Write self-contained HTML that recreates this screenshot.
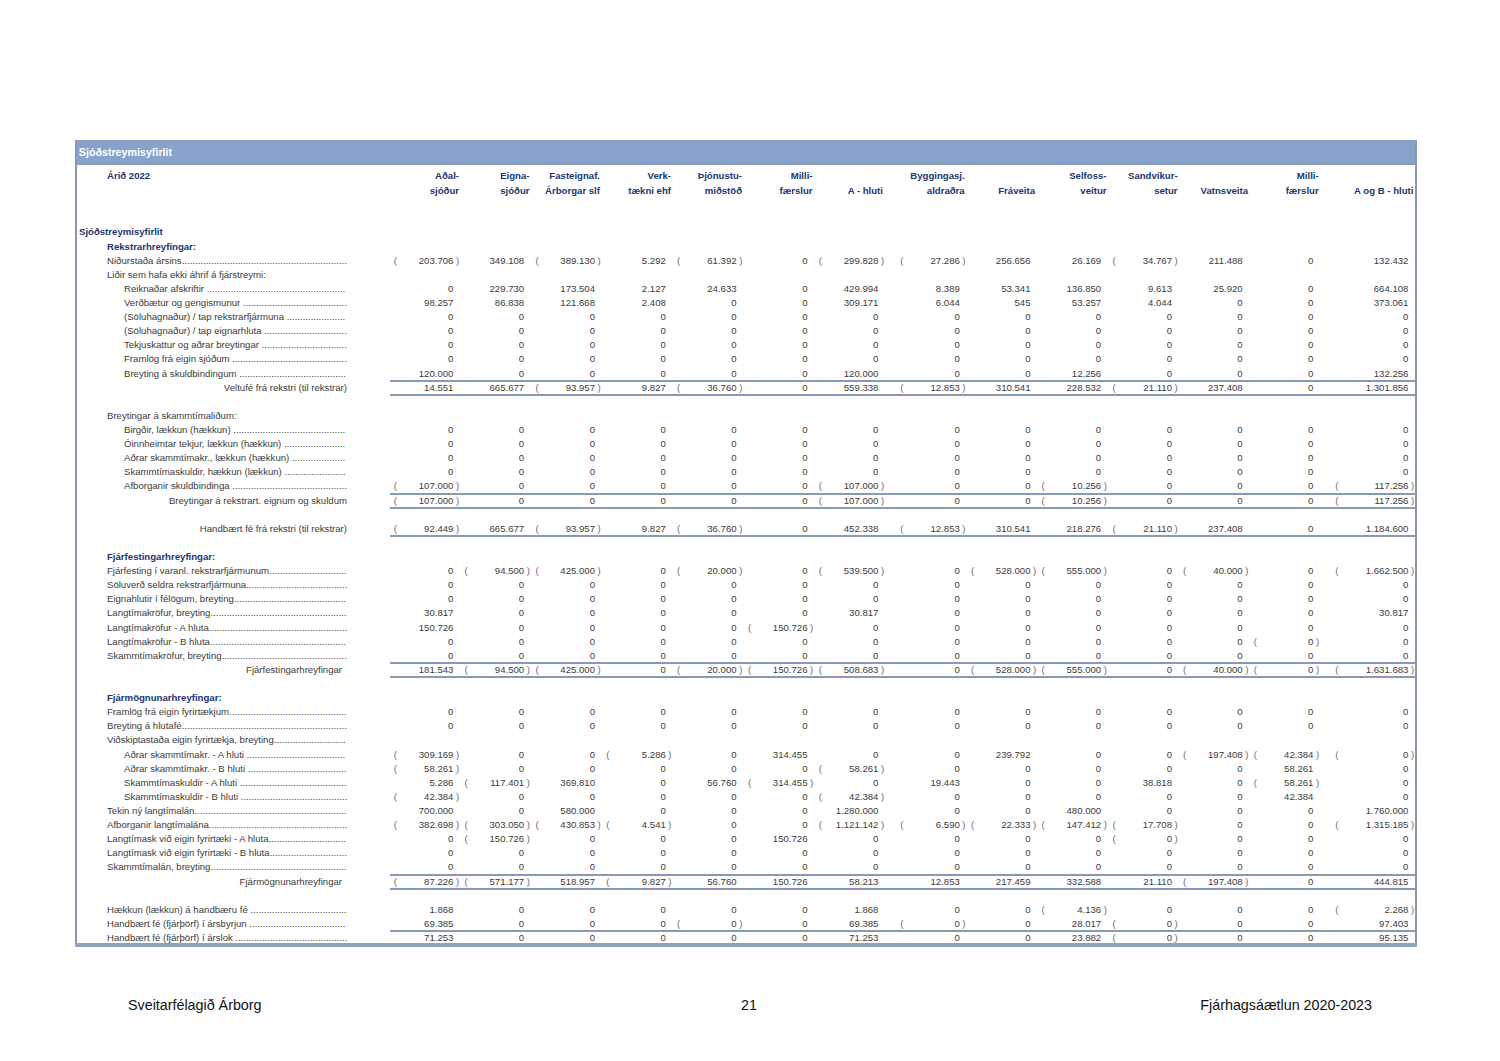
<!DOCTYPE html>
<html><head><meta charset="utf-8"><title>Sjóðstreymisyfirlit</title><style>
html,body{margin:0;padding:0;background:#fff;}
body{width:1500px;height:1061px;position:relative;overflow:hidden;font-family:"Liberation Sans",sans-serif;}
.t{position:absolute;white-space:pre;font-size:9.6px;line-height:14px;color:#3b3b3b;}
.b{font-weight:bold;color:#1e3370;}
.h{font-weight:bold;color:#22356f;}
.d{overflow:hidden;}
.ln{position:absolute;left:390px;width:1025px;height:2px;background:#8797bd;}
.ln.g{background:#8899b2;}
.p{color:#6a6a6a;}
#bar{position:absolute;left:75px;top:140px;width:1342px;height:22px;background:#87a3cb;border-top:1px solid #8e9db6;border-bottom:2px solid #8b9bb3;}
#bar span{position:absolute;left:3.8px;top:-1.5px;line-height:25px;font-size:10.7px;font-weight:bold;color:#fff;}
#lb{position:absolute;left:75px;top:165px;width:2px;height:781px;background:#8a95a8;}
#rb{position:absolute;left:1415px;top:165px;width:2px;height:781px;background:#8a95a8;}
.be{position:absolute;top:141px;width:2px;height:22px;background:#8299bf;}
#bb{position:absolute;left:75px;top:943px;width:1342px;height:4px;background:#8ea2be;}
.ft{position:absolute;font-size:14.3px;color:#111;white-space:pre;line-height:20px;}
</style></head><body>
<div id="bar"><span>Sjóðstreymisyfirlit</span></div>
<div id="lb"></div><div id="rb"></div><div id="bb"></div><div class="be" style="left:75px"></div><div class="be" style="left:1415px"></div>
<div class="t b" style="left:79px;top:225.45px">Sjóðstreymisyfirlit</div>
<div class="t b" style="left:107px;top:239.56px">Rekstrarhreyfingar:</div>
<div class="t" style="left:107px;top:253.67px">Niðurstaða ársins..............................................................</div>
<div class="t" style="left:107px;top:267.78px">Liðir sem hafa ekki áhrif á fjárstreymi:</div>
<div class="t" style="left:124px;top:281.89px">Reiknaðar afskriftir ....................................................</div>
<div class="t" style="left:124px;top:296px">Verðbætur og gengismunur .......................................</div>
<div class="t" style="left:124px;top:310.11px">(Söluhagnaður) / tap rekstrarfjármuna ......................</div>
<div class="t" style="left:124px;top:324.22px">(Söluhagnaður) / tap eignarhluta ...............................</div>
<div class="t" style="left:124px;top:338.33px">Tekjuskattur og aðrar breytingar ................................</div>
<div class="t" style="left:124px;top:352.44px">Framlög frá eigin sjóðum ...........................................</div>
<div class="t" style="left:124px;top:366.55px">Breyting á skuldbindingum ........................................</div>
<div class="t" style="right:1153px;top:380.66px">Veltufé frá rekstri (til rekstrar)</div>
<div class="t" style="left:107px;top:408.88px">Breytingar á skammtímaliðum:</div>
<div class="t" style="left:124px;top:422.99px">Birgðir, lækkun (hækkun) ..........................................</div>
<div class="t" style="left:124px;top:437.1px">Óinnheimtar tekjur, lækkun (hækkun) .......................</div>
<div class="t" style="left:124px;top:451.21px">Aðrar skammtímakr., lækkun (hækkun) ....................</div>
<div class="t" style="left:124px;top:465.32px">Skammtímaskuldir, hækkun (lækkun) .......................</div>
<div class="t" style="left:124px;top:479.43px">Afborganir skuldbindinga ...........................................</div>
<div class="t" style="right:1153px;top:493.54px">Breytingar á rekstrart. eignum og skuldum</div>
<div class="t" style="right:1153px;top:521.76px">Handbært fé frá rekstri (til rekstrar)</div>
<div class="t b" style="left:107px;top:549.98px">Fjárfestingarhreyfingar:</div>
<div class="t" style="left:107px;top:564.09px">Fjárfesting í varanl. rekstrarfjármunum.............................</div>
<div class="t" style="left:107px;top:578.2px">Söluverð seldra rekstrarfjármuna......................................</div>
<div class="t" style="left:107px;top:592.31px">Eignahlutir í félögum, breyting..........................................</div>
<div class="t" style="left:107px;top:606.42px">Langtímakröfur, breyting...................................................</div>
<div class="t" style="left:107px;top:620.53px">Langtímakröfur - A hluta....................................................</div>
<div class="t" style="left:107px;top:634.64px">Langtímakröfur - B hluta...................................................</div>
<div class="t" style="left:107px;top:648.75px">Skammtímakröfur, breyting...............................................</div>
<div class="t" style="right:1158px;top:662.86px">Fjárfestingarhreyfingar</div>
<div class="t b" style="left:107px;top:691.08px">Fjármögnunarhreyfingar:</div>
<div class="t" style="left:107px;top:705.19px">Framlög frá eigin fyrirtækjum............................................</div>
<div class="t" style="left:107px;top:719.3px">Breyting á hlutafé..............................................................</div>
<div class="t" style="left:107px;top:733.41px">Viðskiptastaða eigin fyrirtækja, breyting...........................</div>
<div class="t" style="left:124px;top:747.52px">Aðrar skammtímakr. - A hluti .....................................</div>
<div class="t" style="left:124px;top:761.63px">Aðrar skammtímakr. - B hluti .....................................</div>
<div class="t" style="left:124px;top:775.74px">Skammtímaskuldir - A hluti ........................................</div>
<div class="t" style="left:124px;top:789.85px">Skammtímaskuldir - B hluti ........................................</div>
<div class="t" style="left:107px;top:803.96px">Tekin ný langtímalán.........................................................</div>
<div class="t" style="left:107px;top:818.07px">Afborganir langtímalána....................................................</div>
<div class="t" style="left:107px;top:832.18px">Langtímask við eigin fyrirtæki - A hluta.............................</div>
<div class="t" style="left:107px;top:846.29px">Langtímask við eigin fyrirtæki - B hluta.............................</div>
<div class="t" style="left:107px;top:860.4px">Skammtímalán, breyting...................................................</div>
<div class="t" style="right:1158px;top:874.51px">Fjármögnunarhreyfingar</div>
<div class="t" style="left:107px;top:902.73px">Hækkun (lækkun) á handbæru fé ....................................</div>
<div class="t" style="left:107px;top:916.84px">Handbært fé (fjárþörf) í ársbyrjun ....................................</div>
<div class="t" style="left:107px;top:930.95px">Handbært fé (fjárþörf) í árslok ..........................................</div>
<div class="t n" style="right:1046.6px;top:253.67px">203.706</div>
<div class="t n p" style="left:393.8px;top:253.67px">(</div>
<div class="t n p" style="left:455.94px;top:253.67px">)</div>
<div class="t n" style="right:975.8px;top:253.67px">349.108</div>
<div class="t n" style="right:905px;top:253.67px">389.130</div>
<div class="t n p" style="left:535.4px;top:253.67px">(</div>
<div class="t n p" style="left:597.54px;top:253.67px">)</div>
<div class="t n" style="right:834.2px;top:253.67px">5.292</div>
<div class="t n" style="right:763.4px;top:253.67px">61.392</div>
<div class="t n p" style="left:677px;top:253.67px">(</div>
<div class="t n p" style="left:739.14px;top:253.67px">)</div>
<div class="t n" style="right:692.5px;top:253.67px">0</div>
<div class="t n" style="right:621.6px;top:253.67px">299.828</div>
<div class="t n p" style="left:818.8px;top:253.67px">(</div>
<div class="t n p" style="left:880.94px;top:253.67px">)</div>
<div class="t n" style="right:540.2px;top:253.67px">27.286</div>
<div class="t n p" style="left:900.2px;top:253.67px">(</div>
<div class="t n p" style="left:962.34px;top:253.67px">)</div>
<div class="t n" style="right:469.5px;top:253.67px">256.656</div>
<div class="t n" style="right:398.8px;top:253.67px">26.169</div>
<div class="t n" style="right:328px;top:253.67px">34.767</div>
<div class="t n p" style="left:1112.4px;top:253.67px">(</div>
<div class="t n p" style="left:1174.54px;top:253.67px">)</div>
<div class="t n" style="right:257.3px;top:253.67px">211.488</div>
<div class="t n" style="right:186.6px;top:253.67px">0</div>
<div class="t n" style="right:91.6px;top:253.67px">132.432</div>
<div class="t n" style="right:1046.6px;top:281.89px">0</div>
<div class="t n" style="right:975.8px;top:281.89px">229.730</div>
<div class="t n" style="right:905px;top:281.89px">173.504</div>
<div class="t n" style="right:834.2px;top:281.89px">2.127</div>
<div class="t n" style="right:763.4px;top:281.89px">24.633</div>
<div class="t n" style="right:692.5px;top:281.89px">0</div>
<div class="t n" style="right:621.6px;top:281.89px">429.994</div>
<div class="t n" style="right:540.2px;top:281.89px">8.389</div>
<div class="t n" style="right:469.5px;top:281.89px">53.341</div>
<div class="t n" style="right:398.8px;top:281.89px">136.850</div>
<div class="t n" style="right:328px;top:281.89px">9.613</div>
<div class="t n" style="right:257.3px;top:281.89px">25.920</div>
<div class="t n" style="right:186.6px;top:281.89px">0</div>
<div class="t n" style="right:91.6px;top:281.89px">664.108</div>
<div class="t n" style="right:1046.6px;top:296px">98.257</div>
<div class="t n" style="right:975.8px;top:296px">86.838</div>
<div class="t n" style="right:905px;top:296px">121.668</div>
<div class="t n" style="right:834.2px;top:296px">2.408</div>
<div class="t n" style="right:763.4px;top:296px">0</div>
<div class="t n" style="right:692.5px;top:296px">0</div>
<div class="t n" style="right:621.6px;top:296px">309.171</div>
<div class="t n" style="right:540.2px;top:296px">6.044</div>
<div class="t n" style="right:469.5px;top:296px">545</div>
<div class="t n" style="right:398.8px;top:296px">53.257</div>
<div class="t n" style="right:328px;top:296px">4.044</div>
<div class="t n" style="right:257.3px;top:296px">0</div>
<div class="t n" style="right:186.6px;top:296px">0</div>
<div class="t n" style="right:91.6px;top:296px">373.061</div>
<div class="t n" style="right:1046.6px;top:310.11px">0</div>
<div class="t n" style="right:975.8px;top:310.11px">0</div>
<div class="t n" style="right:905px;top:310.11px">0</div>
<div class="t n" style="right:834.2px;top:310.11px">0</div>
<div class="t n" style="right:763.4px;top:310.11px">0</div>
<div class="t n" style="right:692.5px;top:310.11px">0</div>
<div class="t n" style="right:621.6px;top:310.11px">0</div>
<div class="t n" style="right:540.2px;top:310.11px">0</div>
<div class="t n" style="right:469.5px;top:310.11px">0</div>
<div class="t n" style="right:398.8px;top:310.11px">0</div>
<div class="t n" style="right:328px;top:310.11px">0</div>
<div class="t n" style="right:257.3px;top:310.11px">0</div>
<div class="t n" style="right:186.6px;top:310.11px">0</div>
<div class="t n" style="right:91.6px;top:310.11px">0</div>
<div class="t n" style="right:1046.6px;top:324.22px">0</div>
<div class="t n" style="right:975.8px;top:324.22px">0</div>
<div class="t n" style="right:905px;top:324.22px">0</div>
<div class="t n" style="right:834.2px;top:324.22px">0</div>
<div class="t n" style="right:763.4px;top:324.22px">0</div>
<div class="t n" style="right:692.5px;top:324.22px">0</div>
<div class="t n" style="right:621.6px;top:324.22px">0</div>
<div class="t n" style="right:540.2px;top:324.22px">0</div>
<div class="t n" style="right:469.5px;top:324.22px">0</div>
<div class="t n" style="right:398.8px;top:324.22px">0</div>
<div class="t n" style="right:328px;top:324.22px">0</div>
<div class="t n" style="right:257.3px;top:324.22px">0</div>
<div class="t n" style="right:186.6px;top:324.22px">0</div>
<div class="t n" style="right:91.6px;top:324.22px">0</div>
<div class="t n" style="right:1046.6px;top:338.33px">0</div>
<div class="t n" style="right:975.8px;top:338.33px">0</div>
<div class="t n" style="right:905px;top:338.33px">0</div>
<div class="t n" style="right:834.2px;top:338.33px">0</div>
<div class="t n" style="right:763.4px;top:338.33px">0</div>
<div class="t n" style="right:692.5px;top:338.33px">0</div>
<div class="t n" style="right:621.6px;top:338.33px">0</div>
<div class="t n" style="right:540.2px;top:338.33px">0</div>
<div class="t n" style="right:469.5px;top:338.33px">0</div>
<div class="t n" style="right:398.8px;top:338.33px">0</div>
<div class="t n" style="right:328px;top:338.33px">0</div>
<div class="t n" style="right:257.3px;top:338.33px">0</div>
<div class="t n" style="right:186.6px;top:338.33px">0</div>
<div class="t n" style="right:91.6px;top:338.33px">0</div>
<div class="t n" style="right:1046.6px;top:352.44px">0</div>
<div class="t n" style="right:975.8px;top:352.44px">0</div>
<div class="t n" style="right:905px;top:352.44px">0</div>
<div class="t n" style="right:834.2px;top:352.44px">0</div>
<div class="t n" style="right:763.4px;top:352.44px">0</div>
<div class="t n" style="right:692.5px;top:352.44px">0</div>
<div class="t n" style="right:621.6px;top:352.44px">0</div>
<div class="t n" style="right:540.2px;top:352.44px">0</div>
<div class="t n" style="right:469.5px;top:352.44px">0</div>
<div class="t n" style="right:398.8px;top:352.44px">0</div>
<div class="t n" style="right:328px;top:352.44px">0</div>
<div class="t n" style="right:257.3px;top:352.44px">0</div>
<div class="t n" style="right:186.6px;top:352.44px">0</div>
<div class="t n" style="right:91.6px;top:352.44px">0</div>
<div class="t n" style="right:1046.6px;top:366.55px">120.000</div>
<div class="t n" style="right:975.8px;top:366.55px">0</div>
<div class="t n" style="right:905px;top:366.55px">0</div>
<div class="t n" style="right:834.2px;top:366.55px">0</div>
<div class="t n" style="right:763.4px;top:366.55px">0</div>
<div class="t n" style="right:692.5px;top:366.55px">0</div>
<div class="t n" style="right:621.6px;top:366.55px">120.000</div>
<div class="t n" style="right:540.2px;top:366.55px">0</div>
<div class="t n" style="right:469.5px;top:366.55px">0</div>
<div class="t n" style="right:398.8px;top:366.55px">12.256</div>
<div class="t n" style="right:328px;top:366.55px">0</div>
<div class="t n" style="right:257.3px;top:366.55px">0</div>
<div class="t n" style="right:186.6px;top:366.55px">0</div>
<div class="t n" style="right:91.6px;top:366.55px">132.256</div>
<div class="t n" style="right:1046.6px;top:380.66px">14.551</div>
<div class="t n" style="right:975.8px;top:380.66px">665.677</div>
<div class="t n" style="right:905px;top:380.66px">93.957</div>
<div class="t n p" style="left:535.4px;top:380.66px">(</div>
<div class="t n p" style="left:597.54px;top:380.66px">)</div>
<div class="t n" style="right:834.2px;top:380.66px">9.827</div>
<div class="t n" style="right:763.4px;top:380.66px">36.760</div>
<div class="t n p" style="left:677px;top:380.66px">(</div>
<div class="t n p" style="left:739.14px;top:380.66px">)</div>
<div class="t n" style="right:692.5px;top:380.66px">0</div>
<div class="t n" style="right:621.6px;top:380.66px">559.338</div>
<div class="t n" style="right:540.2px;top:380.66px">12.853</div>
<div class="t n p" style="left:900.2px;top:380.66px">(</div>
<div class="t n p" style="left:962.34px;top:380.66px">)</div>
<div class="t n" style="right:469.5px;top:380.66px">310.541</div>
<div class="t n" style="right:398.8px;top:380.66px">228.532</div>
<div class="t n" style="right:328px;top:380.66px">21.110</div>
<div class="t n p" style="left:1112.4px;top:380.66px">(</div>
<div class="t n p" style="left:1174.54px;top:380.66px">)</div>
<div class="t n" style="right:257.3px;top:380.66px">237.408</div>
<div class="t n" style="right:186.6px;top:380.66px">0</div>
<div class="t n" style="right:91.6px;top:380.66px">1.301.856</div>
<div class="t n" style="right:1046.6px;top:422.99px">0</div>
<div class="t n" style="right:975.8px;top:422.99px">0</div>
<div class="t n" style="right:905px;top:422.99px">0</div>
<div class="t n" style="right:834.2px;top:422.99px">0</div>
<div class="t n" style="right:763.4px;top:422.99px">0</div>
<div class="t n" style="right:692.5px;top:422.99px">0</div>
<div class="t n" style="right:621.6px;top:422.99px">0</div>
<div class="t n" style="right:540.2px;top:422.99px">0</div>
<div class="t n" style="right:469.5px;top:422.99px">0</div>
<div class="t n" style="right:398.8px;top:422.99px">0</div>
<div class="t n" style="right:328px;top:422.99px">0</div>
<div class="t n" style="right:257.3px;top:422.99px">0</div>
<div class="t n" style="right:186.6px;top:422.99px">0</div>
<div class="t n" style="right:91.6px;top:422.99px">0</div>
<div class="t n" style="right:1046.6px;top:437.1px">0</div>
<div class="t n" style="right:975.8px;top:437.1px">0</div>
<div class="t n" style="right:905px;top:437.1px">0</div>
<div class="t n" style="right:834.2px;top:437.1px">0</div>
<div class="t n" style="right:763.4px;top:437.1px">0</div>
<div class="t n" style="right:692.5px;top:437.1px">0</div>
<div class="t n" style="right:621.6px;top:437.1px">0</div>
<div class="t n" style="right:540.2px;top:437.1px">0</div>
<div class="t n" style="right:469.5px;top:437.1px">0</div>
<div class="t n" style="right:398.8px;top:437.1px">0</div>
<div class="t n" style="right:328px;top:437.1px">0</div>
<div class="t n" style="right:257.3px;top:437.1px">0</div>
<div class="t n" style="right:186.6px;top:437.1px">0</div>
<div class="t n" style="right:91.6px;top:437.1px">0</div>
<div class="t n" style="right:1046.6px;top:451.21px">0</div>
<div class="t n" style="right:975.8px;top:451.21px">0</div>
<div class="t n" style="right:905px;top:451.21px">0</div>
<div class="t n" style="right:834.2px;top:451.21px">0</div>
<div class="t n" style="right:763.4px;top:451.21px">0</div>
<div class="t n" style="right:692.5px;top:451.21px">0</div>
<div class="t n" style="right:621.6px;top:451.21px">0</div>
<div class="t n" style="right:540.2px;top:451.21px">0</div>
<div class="t n" style="right:469.5px;top:451.21px">0</div>
<div class="t n" style="right:398.8px;top:451.21px">0</div>
<div class="t n" style="right:328px;top:451.21px">0</div>
<div class="t n" style="right:257.3px;top:451.21px">0</div>
<div class="t n" style="right:186.6px;top:451.21px">0</div>
<div class="t n" style="right:91.6px;top:451.21px">0</div>
<div class="t n" style="right:1046.6px;top:465.32px">0</div>
<div class="t n" style="right:975.8px;top:465.32px">0</div>
<div class="t n" style="right:905px;top:465.32px">0</div>
<div class="t n" style="right:834.2px;top:465.32px">0</div>
<div class="t n" style="right:763.4px;top:465.32px">0</div>
<div class="t n" style="right:692.5px;top:465.32px">0</div>
<div class="t n" style="right:621.6px;top:465.32px">0</div>
<div class="t n" style="right:540.2px;top:465.32px">0</div>
<div class="t n" style="right:469.5px;top:465.32px">0</div>
<div class="t n" style="right:398.8px;top:465.32px">0</div>
<div class="t n" style="right:328px;top:465.32px">0</div>
<div class="t n" style="right:257.3px;top:465.32px">0</div>
<div class="t n" style="right:186.6px;top:465.32px">0</div>
<div class="t n" style="right:91.6px;top:465.32px">0</div>
<div class="t n" style="right:1046.6px;top:479.43px">107.000</div>
<div class="t n p" style="left:393.8px;top:479.43px">(</div>
<div class="t n p" style="left:455.94px;top:479.43px">)</div>
<div class="t n" style="right:975.8px;top:479.43px">0</div>
<div class="t n" style="right:905px;top:479.43px">0</div>
<div class="t n" style="right:834.2px;top:479.43px">0</div>
<div class="t n" style="right:763.4px;top:479.43px">0</div>
<div class="t n" style="right:692.5px;top:479.43px">0</div>
<div class="t n" style="right:621.6px;top:479.43px">107.000</div>
<div class="t n p" style="left:818.8px;top:479.43px">(</div>
<div class="t n p" style="left:880.94px;top:479.43px">)</div>
<div class="t n" style="right:540.2px;top:479.43px">0</div>
<div class="t n" style="right:469.5px;top:479.43px">0</div>
<div class="t n" style="right:398.8px;top:479.43px">10.256</div>
<div class="t n p" style="left:1041.6px;top:479.43px">(</div>
<div class="t n p" style="left:1103.74px;top:479.43px">)</div>
<div class="t n" style="right:328px;top:479.43px">0</div>
<div class="t n" style="right:257.3px;top:479.43px">0</div>
<div class="t n" style="right:186.6px;top:479.43px">0</div>
<div class="t n" style="right:91.6px;top:479.43px">117.256</div>
<div class="t n p" style="left:1335.2px;top:479.43px">(</div>
<div class="t n p" style="left:1410.94px;top:479.43px">)</div>
<div class="t n" style="right:1046.6px;top:493.54px">107.000</div>
<div class="t n p" style="left:393.8px;top:493.54px">(</div>
<div class="t n p" style="left:455.94px;top:493.54px">)</div>
<div class="t n" style="right:975.8px;top:493.54px">0</div>
<div class="t n" style="right:905px;top:493.54px">0</div>
<div class="t n" style="right:834.2px;top:493.54px">0</div>
<div class="t n" style="right:763.4px;top:493.54px">0</div>
<div class="t n" style="right:692.5px;top:493.54px">0</div>
<div class="t n" style="right:621.6px;top:493.54px">107.000</div>
<div class="t n p" style="left:818.8px;top:493.54px">(</div>
<div class="t n p" style="left:880.94px;top:493.54px">)</div>
<div class="t n" style="right:540.2px;top:493.54px">0</div>
<div class="t n" style="right:469.5px;top:493.54px">0</div>
<div class="t n" style="right:398.8px;top:493.54px">10.256</div>
<div class="t n p" style="left:1041.6px;top:493.54px">(</div>
<div class="t n p" style="left:1103.74px;top:493.54px">)</div>
<div class="t n" style="right:328px;top:493.54px">0</div>
<div class="t n" style="right:257.3px;top:493.54px">0</div>
<div class="t n" style="right:186.6px;top:493.54px">0</div>
<div class="t n" style="right:91.6px;top:493.54px">117.256</div>
<div class="t n p" style="left:1335.2px;top:493.54px">(</div>
<div class="t n p" style="left:1410.94px;top:493.54px">)</div>
<div class="t n" style="right:1046.6px;top:521.76px">92.449</div>
<div class="t n p" style="left:393.8px;top:521.76px">(</div>
<div class="t n p" style="left:455.94px;top:521.76px">)</div>
<div class="t n" style="right:975.8px;top:521.76px">665.677</div>
<div class="t n" style="right:905px;top:521.76px">93.957</div>
<div class="t n p" style="left:535.4px;top:521.76px">(</div>
<div class="t n p" style="left:597.54px;top:521.76px">)</div>
<div class="t n" style="right:834.2px;top:521.76px">9.827</div>
<div class="t n" style="right:763.4px;top:521.76px">36.760</div>
<div class="t n p" style="left:677px;top:521.76px">(</div>
<div class="t n p" style="left:739.14px;top:521.76px">)</div>
<div class="t n" style="right:692.5px;top:521.76px">0</div>
<div class="t n" style="right:621.6px;top:521.76px">452.338</div>
<div class="t n" style="right:540.2px;top:521.76px">12.853</div>
<div class="t n p" style="left:900.2px;top:521.76px">(</div>
<div class="t n p" style="left:962.34px;top:521.76px">)</div>
<div class="t n" style="right:469.5px;top:521.76px">310.541</div>
<div class="t n" style="right:398.8px;top:521.76px">218.276</div>
<div class="t n" style="right:328px;top:521.76px">21.110</div>
<div class="t n p" style="left:1112.4px;top:521.76px">(</div>
<div class="t n p" style="left:1174.54px;top:521.76px">)</div>
<div class="t n" style="right:257.3px;top:521.76px">237.408</div>
<div class="t n" style="right:186.6px;top:521.76px">0</div>
<div class="t n" style="right:91.6px;top:521.76px">1.184.600</div>
<div class="t n" style="right:1046.6px;top:564.09px">0</div>
<div class="t n" style="right:975.8px;top:564.09px">94.500</div>
<div class="t n p" style="left:464.6px;top:564.09px">(</div>
<div class="t n p" style="left:526.74px;top:564.09px">)</div>
<div class="t n" style="right:905px;top:564.09px">425.000</div>
<div class="t n p" style="left:535.4px;top:564.09px">(</div>
<div class="t n p" style="left:597.54px;top:564.09px">)</div>
<div class="t n" style="right:834.2px;top:564.09px">0</div>
<div class="t n" style="right:763.4px;top:564.09px">20.000</div>
<div class="t n p" style="left:677px;top:564.09px">(</div>
<div class="t n p" style="left:739.14px;top:564.09px">)</div>
<div class="t n" style="right:692.5px;top:564.09px">0</div>
<div class="t n" style="right:621.6px;top:564.09px">539.500</div>
<div class="t n p" style="left:818.8px;top:564.09px">(</div>
<div class="t n p" style="left:880.94px;top:564.09px">)</div>
<div class="t n" style="right:540.2px;top:564.09px">0</div>
<div class="t n" style="right:469.5px;top:564.09px">528.000</div>
<div class="t n p" style="left:970.9px;top:564.09px">(</div>
<div class="t n p" style="left:1033.04px;top:564.09px">)</div>
<div class="t n" style="right:398.8px;top:564.09px">555.000</div>
<div class="t n p" style="left:1041.6px;top:564.09px">(</div>
<div class="t n p" style="left:1103.74px;top:564.09px">)</div>
<div class="t n" style="right:328px;top:564.09px">0</div>
<div class="t n" style="right:257.3px;top:564.09px">40.000</div>
<div class="t n p" style="left:1183.1px;top:564.09px">(</div>
<div class="t n p" style="left:1245.24px;top:564.09px">)</div>
<div class="t n" style="right:186.6px;top:564.09px">0</div>
<div class="t n" style="right:91.6px;top:564.09px">1.662.500</div>
<div class="t n p" style="left:1335.2px;top:564.09px">(</div>
<div class="t n p" style="left:1410.94px;top:564.09px">)</div>
<div class="t n" style="right:1046.6px;top:578.2px">0</div>
<div class="t n" style="right:975.8px;top:578.2px">0</div>
<div class="t n" style="right:905px;top:578.2px">0</div>
<div class="t n" style="right:834.2px;top:578.2px">0</div>
<div class="t n" style="right:763.4px;top:578.2px">0</div>
<div class="t n" style="right:692.5px;top:578.2px">0</div>
<div class="t n" style="right:621.6px;top:578.2px">0</div>
<div class="t n" style="right:540.2px;top:578.2px">0</div>
<div class="t n" style="right:469.5px;top:578.2px">0</div>
<div class="t n" style="right:398.8px;top:578.2px">0</div>
<div class="t n" style="right:328px;top:578.2px">0</div>
<div class="t n" style="right:257.3px;top:578.2px">0</div>
<div class="t n" style="right:186.6px;top:578.2px">0</div>
<div class="t n" style="right:91.6px;top:578.2px">0</div>
<div class="t n" style="right:1046.6px;top:592.31px">0</div>
<div class="t n" style="right:975.8px;top:592.31px">0</div>
<div class="t n" style="right:905px;top:592.31px">0</div>
<div class="t n" style="right:834.2px;top:592.31px">0</div>
<div class="t n" style="right:763.4px;top:592.31px">0</div>
<div class="t n" style="right:692.5px;top:592.31px">0</div>
<div class="t n" style="right:621.6px;top:592.31px">0</div>
<div class="t n" style="right:540.2px;top:592.31px">0</div>
<div class="t n" style="right:469.5px;top:592.31px">0</div>
<div class="t n" style="right:398.8px;top:592.31px">0</div>
<div class="t n" style="right:328px;top:592.31px">0</div>
<div class="t n" style="right:257.3px;top:592.31px">0</div>
<div class="t n" style="right:186.6px;top:592.31px">0</div>
<div class="t n" style="right:91.6px;top:592.31px">0</div>
<div class="t n" style="right:1046.6px;top:606.42px">30.817</div>
<div class="t n" style="right:975.8px;top:606.42px">0</div>
<div class="t n" style="right:905px;top:606.42px">0</div>
<div class="t n" style="right:834.2px;top:606.42px">0</div>
<div class="t n" style="right:763.4px;top:606.42px">0</div>
<div class="t n" style="right:692.5px;top:606.42px">0</div>
<div class="t n" style="right:621.6px;top:606.42px">30.817</div>
<div class="t n" style="right:540.2px;top:606.42px">0</div>
<div class="t n" style="right:469.5px;top:606.42px">0</div>
<div class="t n" style="right:398.8px;top:606.42px">0</div>
<div class="t n" style="right:328px;top:606.42px">0</div>
<div class="t n" style="right:257.3px;top:606.42px">0</div>
<div class="t n" style="right:186.6px;top:606.42px">0</div>
<div class="t n" style="right:91.6px;top:606.42px">30.817</div>
<div class="t n" style="right:1046.6px;top:620.53px">150.726</div>
<div class="t n" style="right:975.8px;top:620.53px">0</div>
<div class="t n" style="right:905px;top:620.53px">0</div>
<div class="t n" style="right:834.2px;top:620.53px">0</div>
<div class="t n" style="right:763.4px;top:620.53px">0</div>
<div class="t n" style="right:692.5px;top:620.53px">150.726</div>
<div class="t n p" style="left:747.9px;top:620.53px">(</div>
<div class="t n p" style="left:810.04px;top:620.53px">)</div>
<div class="t n" style="right:621.6px;top:620.53px">0</div>
<div class="t n" style="right:540.2px;top:620.53px">0</div>
<div class="t n" style="right:469.5px;top:620.53px">0</div>
<div class="t n" style="right:398.8px;top:620.53px">0</div>
<div class="t n" style="right:328px;top:620.53px">0</div>
<div class="t n" style="right:257.3px;top:620.53px">0</div>
<div class="t n" style="right:186.6px;top:620.53px">0</div>
<div class="t n" style="right:91.6px;top:620.53px">0</div>
<div class="t n" style="right:1046.6px;top:634.64px">0</div>
<div class="t n" style="right:975.8px;top:634.64px">0</div>
<div class="t n" style="right:905px;top:634.64px">0</div>
<div class="t n" style="right:834.2px;top:634.64px">0</div>
<div class="t n" style="right:763.4px;top:634.64px">0</div>
<div class="t n" style="right:692.5px;top:634.64px">0</div>
<div class="t n" style="right:621.6px;top:634.64px">0</div>
<div class="t n" style="right:540.2px;top:634.64px">0</div>
<div class="t n" style="right:469.5px;top:634.64px">0</div>
<div class="t n" style="right:398.8px;top:634.64px">0</div>
<div class="t n" style="right:328px;top:634.64px">0</div>
<div class="t n" style="right:257.3px;top:634.64px">0</div>
<div class="t n" style="right:186.6px;top:634.64px">0</div>
<div class="t n p" style="left:1253.8px;top:634.64px">(</div>
<div class="t n p" style="left:1315.94px;top:634.64px">)</div>
<div class="t n" style="right:91.6px;top:634.64px">0</div>
<div class="t n" style="right:1046.6px;top:648.75px">0</div>
<div class="t n" style="right:975.8px;top:648.75px">0</div>
<div class="t n" style="right:905px;top:648.75px">0</div>
<div class="t n" style="right:834.2px;top:648.75px">0</div>
<div class="t n" style="right:763.4px;top:648.75px">0</div>
<div class="t n" style="right:692.5px;top:648.75px">0</div>
<div class="t n" style="right:621.6px;top:648.75px">0</div>
<div class="t n" style="right:540.2px;top:648.75px">0</div>
<div class="t n" style="right:469.5px;top:648.75px">0</div>
<div class="t n" style="right:398.8px;top:648.75px">0</div>
<div class="t n" style="right:328px;top:648.75px">0</div>
<div class="t n" style="right:257.3px;top:648.75px">0</div>
<div class="t n" style="right:186.6px;top:648.75px">0</div>
<div class="t n" style="right:91.6px;top:648.75px">0</div>
<div class="t n" style="right:1046.6px;top:662.86px">181.543</div>
<div class="t n" style="right:975.8px;top:662.86px">94.500</div>
<div class="t n p" style="left:464.6px;top:662.86px">(</div>
<div class="t n p" style="left:526.74px;top:662.86px">)</div>
<div class="t n" style="right:905px;top:662.86px">425.000</div>
<div class="t n p" style="left:535.4px;top:662.86px">(</div>
<div class="t n p" style="left:597.54px;top:662.86px">)</div>
<div class="t n" style="right:834.2px;top:662.86px">0</div>
<div class="t n" style="right:763.4px;top:662.86px">20.000</div>
<div class="t n p" style="left:677px;top:662.86px">(</div>
<div class="t n p" style="left:739.14px;top:662.86px">)</div>
<div class="t n" style="right:692.5px;top:662.86px">150.726</div>
<div class="t n p" style="left:747.9px;top:662.86px">(</div>
<div class="t n p" style="left:810.04px;top:662.86px">)</div>
<div class="t n" style="right:621.6px;top:662.86px">508.683</div>
<div class="t n p" style="left:818.8px;top:662.86px">(</div>
<div class="t n p" style="left:880.94px;top:662.86px">)</div>
<div class="t n" style="right:540.2px;top:662.86px">0</div>
<div class="t n" style="right:469.5px;top:662.86px">528.000</div>
<div class="t n p" style="left:970.9px;top:662.86px">(</div>
<div class="t n p" style="left:1033.04px;top:662.86px">)</div>
<div class="t n" style="right:398.8px;top:662.86px">555.000</div>
<div class="t n p" style="left:1041.6px;top:662.86px">(</div>
<div class="t n p" style="left:1103.74px;top:662.86px">)</div>
<div class="t n" style="right:328px;top:662.86px">0</div>
<div class="t n" style="right:257.3px;top:662.86px">40.000</div>
<div class="t n p" style="left:1183.1px;top:662.86px">(</div>
<div class="t n p" style="left:1245.24px;top:662.86px">)</div>
<div class="t n" style="right:186.6px;top:662.86px">0</div>
<div class="t n p" style="left:1253.8px;top:662.86px">(</div>
<div class="t n p" style="left:1315.94px;top:662.86px">)</div>
<div class="t n" style="right:91.6px;top:662.86px">1.631.683</div>
<div class="t n p" style="left:1335.2px;top:662.86px">(</div>
<div class="t n p" style="left:1410.94px;top:662.86px">)</div>
<div class="t n" style="right:1046.6px;top:705.19px">0</div>
<div class="t n" style="right:975.8px;top:705.19px">0</div>
<div class="t n" style="right:905px;top:705.19px">0</div>
<div class="t n" style="right:834.2px;top:705.19px">0</div>
<div class="t n" style="right:763.4px;top:705.19px">0</div>
<div class="t n" style="right:692.5px;top:705.19px">0</div>
<div class="t n" style="right:621.6px;top:705.19px">0</div>
<div class="t n" style="right:540.2px;top:705.19px">0</div>
<div class="t n" style="right:469.5px;top:705.19px">0</div>
<div class="t n" style="right:398.8px;top:705.19px">0</div>
<div class="t n" style="right:328px;top:705.19px">0</div>
<div class="t n" style="right:257.3px;top:705.19px">0</div>
<div class="t n" style="right:186.6px;top:705.19px">0</div>
<div class="t n" style="right:91.6px;top:705.19px">0</div>
<div class="t n" style="right:1046.6px;top:719.3px">0</div>
<div class="t n" style="right:975.8px;top:719.3px">0</div>
<div class="t n" style="right:905px;top:719.3px">0</div>
<div class="t n" style="right:834.2px;top:719.3px">0</div>
<div class="t n" style="right:763.4px;top:719.3px">0</div>
<div class="t n" style="right:692.5px;top:719.3px">0</div>
<div class="t n" style="right:621.6px;top:719.3px">0</div>
<div class="t n" style="right:540.2px;top:719.3px">0</div>
<div class="t n" style="right:469.5px;top:719.3px">0</div>
<div class="t n" style="right:398.8px;top:719.3px">0</div>
<div class="t n" style="right:328px;top:719.3px">0</div>
<div class="t n" style="right:257.3px;top:719.3px">0</div>
<div class="t n" style="right:186.6px;top:719.3px">0</div>
<div class="t n" style="right:91.6px;top:719.3px">0</div>
<div class="t n" style="right:1046.6px;top:747.52px">309.169</div>
<div class="t n p" style="left:393.8px;top:747.52px">(</div>
<div class="t n p" style="left:455.94px;top:747.52px">)</div>
<div class="t n" style="right:975.8px;top:747.52px">0</div>
<div class="t n" style="right:905px;top:747.52px">0</div>
<div class="t n" style="right:834.2px;top:747.52px">5.286</div>
<div class="t n p" style="left:606.2px;top:747.52px">(</div>
<div class="t n p" style="left:668.34px;top:747.52px">)</div>
<div class="t n" style="right:763.4px;top:747.52px">0</div>
<div class="t n" style="right:692.5px;top:747.52px">314.455</div>
<div class="t n" style="right:621.6px;top:747.52px">0</div>
<div class="t n" style="right:540.2px;top:747.52px">0</div>
<div class="t n" style="right:469.5px;top:747.52px">239.792</div>
<div class="t n" style="right:398.8px;top:747.52px">0</div>
<div class="t n" style="right:328px;top:747.52px">0</div>
<div class="t n" style="right:257.3px;top:747.52px">197.408</div>
<div class="t n p" style="left:1183.1px;top:747.52px">(</div>
<div class="t n p" style="left:1245.24px;top:747.52px">)</div>
<div class="t n" style="right:186.6px;top:747.52px">42.384</div>
<div class="t n p" style="left:1253.8px;top:747.52px">(</div>
<div class="t n p" style="left:1315.94px;top:747.52px">)</div>
<div class="t n" style="right:91.6px;top:747.52px">0</div>
<div class="t n p" style="left:1335.2px;top:747.52px">(</div>
<div class="t n p" style="left:1410.94px;top:747.52px">)</div>
<div class="t n" style="right:1046.6px;top:761.63px">58.261</div>
<div class="t n p" style="left:393.8px;top:761.63px">(</div>
<div class="t n p" style="left:455.94px;top:761.63px">)</div>
<div class="t n" style="right:975.8px;top:761.63px">0</div>
<div class="t n" style="right:905px;top:761.63px">0</div>
<div class="t n" style="right:834.2px;top:761.63px">0</div>
<div class="t n" style="right:763.4px;top:761.63px">0</div>
<div class="t n" style="right:692.5px;top:761.63px">0</div>
<div class="t n" style="right:621.6px;top:761.63px">58.261</div>
<div class="t n p" style="left:818.8px;top:761.63px">(</div>
<div class="t n p" style="left:880.94px;top:761.63px">)</div>
<div class="t n" style="right:540.2px;top:761.63px">0</div>
<div class="t n" style="right:469.5px;top:761.63px">0</div>
<div class="t n" style="right:398.8px;top:761.63px">0</div>
<div class="t n" style="right:328px;top:761.63px">0</div>
<div class="t n" style="right:257.3px;top:761.63px">0</div>
<div class="t n" style="right:186.6px;top:761.63px">58.261</div>
<div class="t n" style="right:91.6px;top:761.63px">0</div>
<div class="t n" style="right:1046.6px;top:775.74px">5.286</div>
<div class="t n" style="right:975.8px;top:775.74px">117.401</div>
<div class="t n p" style="left:464.6px;top:775.74px">(</div>
<div class="t n p" style="left:526.74px;top:775.74px">)</div>
<div class="t n" style="right:905px;top:775.74px">369.810</div>
<div class="t n" style="right:834.2px;top:775.74px">0</div>
<div class="t n" style="right:763.4px;top:775.74px">56.760</div>
<div class="t n" style="right:692.5px;top:775.74px">314.455</div>
<div class="t n p" style="left:747.9px;top:775.74px">(</div>
<div class="t n p" style="left:810.04px;top:775.74px">)</div>
<div class="t n" style="right:621.6px;top:775.74px">0</div>
<div class="t n" style="right:540.2px;top:775.74px">19.443</div>
<div class="t n" style="right:469.5px;top:775.74px">0</div>
<div class="t n" style="right:398.8px;top:775.74px">0</div>
<div class="t n" style="right:328px;top:775.74px">38.818</div>
<div class="t n" style="right:257.3px;top:775.74px">0</div>
<div class="t n" style="right:186.6px;top:775.74px">58.261</div>
<div class="t n p" style="left:1253.8px;top:775.74px">(</div>
<div class="t n p" style="left:1315.94px;top:775.74px">)</div>
<div class="t n" style="right:91.6px;top:775.74px">0</div>
<div class="t n" style="right:1046.6px;top:789.85px">42.384</div>
<div class="t n p" style="left:393.8px;top:789.85px">(</div>
<div class="t n p" style="left:455.94px;top:789.85px">)</div>
<div class="t n" style="right:975.8px;top:789.85px">0</div>
<div class="t n" style="right:905px;top:789.85px">0</div>
<div class="t n" style="right:834.2px;top:789.85px">0</div>
<div class="t n" style="right:763.4px;top:789.85px">0</div>
<div class="t n" style="right:692.5px;top:789.85px">0</div>
<div class="t n" style="right:621.6px;top:789.85px">42.384</div>
<div class="t n p" style="left:818.8px;top:789.85px">(</div>
<div class="t n p" style="left:880.94px;top:789.85px">)</div>
<div class="t n" style="right:540.2px;top:789.85px">0</div>
<div class="t n" style="right:469.5px;top:789.85px">0</div>
<div class="t n" style="right:398.8px;top:789.85px">0</div>
<div class="t n" style="right:328px;top:789.85px">0</div>
<div class="t n" style="right:257.3px;top:789.85px">0</div>
<div class="t n" style="right:186.6px;top:789.85px">42.384</div>
<div class="t n" style="right:91.6px;top:789.85px">0</div>
<div class="t n" style="right:1046.6px;top:803.96px">700.000</div>
<div class="t n" style="right:975.8px;top:803.96px">0</div>
<div class="t n" style="right:905px;top:803.96px">580.000</div>
<div class="t n" style="right:834.2px;top:803.96px">0</div>
<div class="t n" style="right:763.4px;top:803.96px">0</div>
<div class="t n" style="right:692.5px;top:803.96px">0</div>
<div class="t n" style="right:621.6px;top:803.96px">1.280.000</div>
<div class="t n" style="right:540.2px;top:803.96px">0</div>
<div class="t n" style="right:469.5px;top:803.96px">0</div>
<div class="t n" style="right:398.8px;top:803.96px">480.000</div>
<div class="t n" style="right:328px;top:803.96px">0</div>
<div class="t n" style="right:257.3px;top:803.96px">0</div>
<div class="t n" style="right:186.6px;top:803.96px">0</div>
<div class="t n" style="right:91.6px;top:803.96px">1.760.000</div>
<div class="t n" style="right:1046.6px;top:818.07px">382.698</div>
<div class="t n p" style="left:393.8px;top:818.07px">(</div>
<div class="t n p" style="left:455.94px;top:818.07px">)</div>
<div class="t n" style="right:975.8px;top:818.07px">303.050</div>
<div class="t n p" style="left:464.6px;top:818.07px">(</div>
<div class="t n p" style="left:526.74px;top:818.07px">)</div>
<div class="t n" style="right:905px;top:818.07px">430.853</div>
<div class="t n p" style="left:535.4px;top:818.07px">(</div>
<div class="t n p" style="left:597.54px;top:818.07px">)</div>
<div class="t n" style="right:834.2px;top:818.07px">4.541</div>
<div class="t n p" style="left:606.2px;top:818.07px">(</div>
<div class="t n p" style="left:668.34px;top:818.07px">)</div>
<div class="t n" style="right:763.4px;top:818.07px">0</div>
<div class="t n" style="right:692.5px;top:818.07px">0</div>
<div class="t n" style="right:621.6px;top:818.07px">1.121.142</div>
<div class="t n p" style="left:818.8px;top:818.07px">(</div>
<div class="t n p" style="left:880.94px;top:818.07px">)</div>
<div class="t n" style="right:540.2px;top:818.07px">6.590</div>
<div class="t n p" style="left:900.2px;top:818.07px">(</div>
<div class="t n p" style="left:962.34px;top:818.07px">)</div>
<div class="t n" style="right:469.5px;top:818.07px">22.333</div>
<div class="t n p" style="left:970.9px;top:818.07px">(</div>
<div class="t n p" style="left:1033.04px;top:818.07px">)</div>
<div class="t n" style="right:398.8px;top:818.07px">147.412</div>
<div class="t n p" style="left:1041.6px;top:818.07px">(</div>
<div class="t n p" style="left:1103.74px;top:818.07px">)</div>
<div class="t n" style="right:328px;top:818.07px">17.708</div>
<div class="t n p" style="left:1112.4px;top:818.07px">(</div>
<div class="t n p" style="left:1174.54px;top:818.07px">)</div>
<div class="t n" style="right:257.3px;top:818.07px">0</div>
<div class="t n" style="right:186.6px;top:818.07px">0</div>
<div class="t n" style="right:91.6px;top:818.07px">1.315.185</div>
<div class="t n p" style="left:1335.2px;top:818.07px">(</div>
<div class="t n p" style="left:1410.94px;top:818.07px">)</div>
<div class="t n" style="right:1046.6px;top:832.18px">0</div>
<div class="t n" style="right:975.8px;top:832.18px">150.726</div>
<div class="t n p" style="left:464.6px;top:832.18px">(</div>
<div class="t n p" style="left:526.74px;top:832.18px">)</div>
<div class="t n" style="right:905px;top:832.18px">0</div>
<div class="t n" style="right:834.2px;top:832.18px">0</div>
<div class="t n" style="right:763.4px;top:832.18px">0</div>
<div class="t n" style="right:692.5px;top:832.18px">150.726</div>
<div class="t n" style="right:621.6px;top:832.18px">0</div>
<div class="t n" style="right:540.2px;top:832.18px">0</div>
<div class="t n" style="right:469.5px;top:832.18px">0</div>
<div class="t n" style="right:398.8px;top:832.18px">0</div>
<div class="t n" style="right:328px;top:832.18px">0</div>
<div class="t n p" style="left:1112.4px;top:832.18px">(</div>
<div class="t n p" style="left:1174.54px;top:832.18px">)</div>
<div class="t n" style="right:257.3px;top:832.18px">0</div>
<div class="t n" style="right:186.6px;top:832.18px">0</div>
<div class="t n" style="right:91.6px;top:832.18px">0</div>
<div class="t n" style="right:1046.6px;top:846.29px">0</div>
<div class="t n" style="right:975.8px;top:846.29px">0</div>
<div class="t n" style="right:905px;top:846.29px">0</div>
<div class="t n" style="right:834.2px;top:846.29px">0</div>
<div class="t n" style="right:763.4px;top:846.29px">0</div>
<div class="t n" style="right:692.5px;top:846.29px">0</div>
<div class="t n" style="right:621.6px;top:846.29px">0</div>
<div class="t n" style="right:540.2px;top:846.29px">0</div>
<div class="t n" style="right:469.5px;top:846.29px">0</div>
<div class="t n" style="right:398.8px;top:846.29px">0</div>
<div class="t n" style="right:328px;top:846.29px">0</div>
<div class="t n" style="right:257.3px;top:846.29px">0</div>
<div class="t n" style="right:186.6px;top:846.29px">0</div>
<div class="t n" style="right:91.6px;top:846.29px">0</div>
<div class="t n" style="right:1046.6px;top:860.4px">0</div>
<div class="t n" style="right:975.8px;top:860.4px">0</div>
<div class="t n" style="right:905px;top:860.4px">0</div>
<div class="t n" style="right:834.2px;top:860.4px">0</div>
<div class="t n" style="right:763.4px;top:860.4px">0</div>
<div class="t n" style="right:692.5px;top:860.4px">0</div>
<div class="t n" style="right:621.6px;top:860.4px">0</div>
<div class="t n" style="right:540.2px;top:860.4px">0</div>
<div class="t n" style="right:469.5px;top:860.4px">0</div>
<div class="t n" style="right:398.8px;top:860.4px">0</div>
<div class="t n" style="right:328px;top:860.4px">0</div>
<div class="t n" style="right:257.3px;top:860.4px">0</div>
<div class="t n" style="right:186.6px;top:860.4px">0</div>
<div class="t n" style="right:91.6px;top:860.4px">0</div>
<div class="t n" style="right:1046.6px;top:874.51px">87.226</div>
<div class="t n p" style="left:393.8px;top:874.51px">(</div>
<div class="t n p" style="left:455.94px;top:874.51px">)</div>
<div class="t n" style="right:975.8px;top:874.51px">571.177</div>
<div class="t n p" style="left:464.6px;top:874.51px">(</div>
<div class="t n p" style="left:526.74px;top:874.51px">)</div>
<div class="t n" style="right:905px;top:874.51px">518.957</div>
<div class="t n" style="right:834.2px;top:874.51px">9.827</div>
<div class="t n p" style="left:606.2px;top:874.51px">(</div>
<div class="t n p" style="left:668.34px;top:874.51px">)</div>
<div class="t n" style="right:763.4px;top:874.51px">56.760</div>
<div class="t n" style="right:692.5px;top:874.51px">150.726</div>
<div class="t n" style="right:621.6px;top:874.51px">58.213</div>
<div class="t n" style="right:540.2px;top:874.51px">12.853</div>
<div class="t n" style="right:469.5px;top:874.51px">217.459</div>
<div class="t n" style="right:398.8px;top:874.51px">332.588</div>
<div class="t n" style="right:328px;top:874.51px">21.110</div>
<div class="t n" style="right:257.3px;top:874.51px">197.408</div>
<div class="t n p" style="left:1183.1px;top:874.51px">(</div>
<div class="t n p" style="left:1245.24px;top:874.51px">)</div>
<div class="t n" style="right:186.6px;top:874.51px">0</div>
<div class="t n" style="right:91.6px;top:874.51px">444.815</div>
<div class="t n" style="right:1046.6px;top:902.73px">1.868</div>
<div class="t n" style="right:975.8px;top:902.73px">0</div>
<div class="t n" style="right:905px;top:902.73px">0</div>
<div class="t n" style="right:834.2px;top:902.73px">0</div>
<div class="t n" style="right:763.4px;top:902.73px">0</div>
<div class="t n" style="right:692.5px;top:902.73px">0</div>
<div class="t n" style="right:621.6px;top:902.73px">1.868</div>
<div class="t n" style="right:540.2px;top:902.73px">0</div>
<div class="t n" style="right:469.5px;top:902.73px">0</div>
<div class="t n" style="right:398.8px;top:902.73px">4.136</div>
<div class="t n p" style="left:1041.6px;top:902.73px">(</div>
<div class="t n p" style="left:1103.74px;top:902.73px">)</div>
<div class="t n" style="right:328px;top:902.73px">0</div>
<div class="t n" style="right:257.3px;top:902.73px">0</div>
<div class="t n" style="right:186.6px;top:902.73px">0</div>
<div class="t n" style="right:91.6px;top:902.73px">2.268</div>
<div class="t n p" style="left:1335.2px;top:902.73px">(</div>
<div class="t n p" style="left:1410.94px;top:902.73px">)</div>
<div class="t n" style="right:1046.6px;top:916.84px">69.385</div>
<div class="t n" style="right:975.8px;top:916.84px">0</div>
<div class="t n" style="right:905px;top:916.84px">0</div>
<div class="t n" style="right:834.2px;top:916.84px">0</div>
<div class="t n" style="right:763.4px;top:916.84px">0</div>
<div class="t n p" style="left:677px;top:916.84px">(</div>
<div class="t n p" style="left:739.14px;top:916.84px">)</div>
<div class="t n" style="right:692.5px;top:916.84px">0</div>
<div class="t n" style="right:621.6px;top:916.84px">69.385</div>
<div class="t n" style="right:540.2px;top:916.84px">0</div>
<div class="t n p" style="left:900.2px;top:916.84px">(</div>
<div class="t n p" style="left:962.34px;top:916.84px">)</div>
<div class="t n" style="right:469.5px;top:916.84px">0</div>
<div class="t n" style="right:398.8px;top:916.84px">28.017</div>
<div class="t n" style="right:328px;top:916.84px">0</div>
<div class="t n p" style="left:1112.4px;top:916.84px">(</div>
<div class="t n p" style="left:1174.54px;top:916.84px">)</div>
<div class="t n" style="right:257.3px;top:916.84px">0</div>
<div class="t n" style="right:186.6px;top:916.84px">0</div>
<div class="t n" style="right:91.6px;top:916.84px">97.403</div>
<div class="t n" style="right:1046.6px;top:930.95px">71.253</div>
<div class="t n" style="right:975.8px;top:930.95px">0</div>
<div class="t n" style="right:905px;top:930.95px">0</div>
<div class="t n" style="right:834.2px;top:930.95px">0</div>
<div class="t n" style="right:763.4px;top:930.95px">0</div>
<div class="t n" style="right:692.5px;top:930.95px">0</div>
<div class="t n" style="right:621.6px;top:930.95px">71.253</div>
<div class="t n" style="right:540.2px;top:930.95px">0</div>
<div class="t n" style="right:469.5px;top:930.95px">0</div>
<div class="t n" style="right:398.8px;top:930.95px">23.882</div>
<div class="t n" style="right:328px;top:930.95px">0</div>
<div class="t n p" style="left:1112.4px;top:930.95px">(</div>
<div class="t n p" style="left:1174.54px;top:930.95px">)</div>
<div class="t n" style="right:257.3px;top:930.95px">0</div>
<div class="t n" style="right:186.6px;top:930.95px">0</div>
<div class="t n" style="right:91.6px;top:930.95px">95.135</div>
<div class="t h" style="right:1041px;top:168.67px">Aðal-</div>
<div class="t h" style="right:1041px;top:183.87px">sjóður</div>
<div class="t h" style="right:970.5px;top:168.67px">Eigna-</div>
<div class="t h" style="right:970.5px;top:183.87px">sjóður</div>
<div class="t h" style="right:900px;top:168.67px">Fasteignaf.</div>
<div class="t h" style="right:900px;top:183.87px">Árborgar slf</div>
<div class="t h" style="right:829px;top:168.67px">Verk-</div>
<div class="t h" style="right:829px;top:183.87px">tækni ehf</div>
<div class="t h" style="right:758px;top:168.67px">Þjónustu-</div>
<div class="t h" style="right:758px;top:183.87px">miðstöð</div>
<div class="t h" style="right:687.5px;top:168.67px">Milli-</div>
<div class="t h" style="right:687.5px;top:183.87px">færslur</div>
<div class="t h" style="right:617px;top:183.87px">A - hluti</div>
<div class="t h" style="right:535.3px;top:168.67px">Byggingasj.</div>
<div class="t h" style="right:535.3px;top:183.87px">aldraðra</div>
<div class="t h" style="right:465px;top:183.87px">Fráveita</div>
<div class="t h" style="right:393.5px;top:168.67px">Selfoss-</div>
<div class="t h" style="right:393.5px;top:183.87px">veitur</div>
<div class="t h" style="right:322.4px;top:168.67px">Sandvíkur-</div>
<div class="t h" style="right:322.4px;top:183.87px">setur</div>
<div class="t h" style="right:252px;top:183.87px">Vatnsveita</div>
<div class="t h" style="right:181.3px;top:168.67px">Milli-</div>
<div class="t h" style="right:181.3px;top:183.87px">færslur</div>
<div class="t h" style="right:86.6px;top:183.87px">A og B - hluti</div>
<div class="t h" style="left:107px;top:168.67px">Árið 2022</div>
<div class="ln v" style="top:380px"></div>
<div class="ln g" style="top:394px"></div>
<div class="ln g" style="top:493px"></div>
<div class="ln g" style="top:507px"></div>
<div class="ln g" style="top:535px"></div>
<div class="ln v" style="top:662px"></div>
<div class="ln g" style="top:676px"></div>
<div class="ln g" style="top:874px"></div>
<div class="ln v" style="top:888px"></div>
<div class="ln g" style="top:930px"></div>
<div class="ft" style="left:128px;top:994.8px">Sveitarfélagið Árborg</div>
<div class="ft" style="left:741px;top:994.8px">21</div>
<div class="ft" style="right:128px;top:994.8px">Fjárhagsáætlun 2020-2023</div>
</body></html>
